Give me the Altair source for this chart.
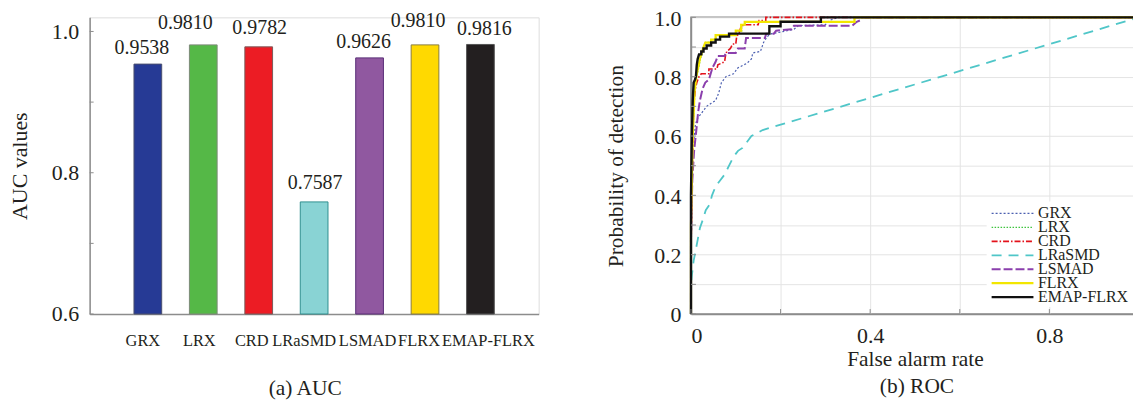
import altair as alt
import pandas as pd

FONT = "Liberation Serif"
TXT = "#231f20"
AX = "#8c8c8c"

# ---------------- data ----------------
methods = ["GRX", "LRX", "CRD", "LRaSMD", "LSMAD", "FLRX", "EMAP-FLRX"]
auc_values = [0.9538, 0.9810, 0.9782, 0.7587, 0.9626, 0.9810, 0.9816]

auc_ticks = [0.6, 0.7, 0.8, 0.9, 1.0]
auc_tick_labels = ["0.6", "", "0.8", "", "1.0"]
roc_x_ticks = [0.0, 0.2, 0.4, 0.6, 0.8, 1.0]
roc_x_labels = ["0", "", "0.4", "", "0.8", ""]
roc_y_ticks = [0.0, 0.1, 0.2, 0.3, 0.4, 0.5, 0.6, 0.7, 0.8, 0.9, 1.0]
roc_y_labels = ["0", "", "0.2", "", "0.4", "", "0.6", "", "0.8", "", "1.0"]

grx_fpr = [0, 0, 0.003, 0.006, 0.010, 0.015, 0.025, 0.035, 0.045, 0.055, 0.062, 0.068, 0.078, 0.095,
           0.105, 0.125, 0.135, 0.138, 0.155, 0.162, 0.170, 0.180, 0.200, 0.230, 0.240, 0.300, 0.310, 0.330, 1.0]
grx_tpr = [0, 0.20, 0.45, 0.58, 0.64, 0.66, 0.68, 0.70, 0.71, 0.72, 0.745, 0.78, 0.80, 0.81,
           0.83, 0.845, 0.86, 0.88, 0.885, 0.915, 0.935, 0.945, 0.95, 0.96, 0.972, 0.975, 0.99, 1.0, 1.0]

lrx_fpr = [0, 0, 0.004, 0.008, 0.012, 0.017, 0.021, 0.025, 0.029, 0.033, 0.046, 0.046, 0.056, 0.056,
           0.101, 0.101, 0.113, 0.113, 0.121, 0.121, 0.365, 0.365, 1.0]
lrx_tpr = [0, 0.30, 0.60, 0.75, 0.80, 0.83, 0.86, 0.88, 0.90, 0.915, 0.915, 0.925, 0.925, 0.94,
           0.94, 0.955, 0.955, 0.975, 0.975, 0.985, 0.985, 1.0, 1.0]

crd_fpr = [0, 0, 0.003, 0.006, 0.010, 0.013, 0.018, 0.023, 0.040, 0.040, 0.058, 0.060, 0.075, 0.077,
           0.080, 0.088, 0.093, 0.100, 0.102, 0.108, 0.112, 0.120, 0.150, 0.152, 0.167, 0.167, 1.0]
crd_tpr = [0, 0.20, 0.50, 0.70, 0.76, 0.78, 0.80, 0.81, 0.81, 0.826, 0.826, 0.84, 0.85, 0.87,
           0.885, 0.895, 0.91, 0.91, 0.935, 0.95, 0.97, 0.975, 0.975, 0.989, 0.989, 1.0, 1.0]

lrasmd_fpr = [0, 0, 0.002, 0.006, 0.010, 0.015, 0.020, 0.027, 0.033, 0.042, 0.047, 0.055, 0.065, 0.075,
              0.085, 0.095, 0.105, 0.115, 0.125, 0.135, 0.148, 0.160, 1.0]
lrasmd_tpr = [0, 0.10, 0.13, 0.18, 0.21, 0.25, 0.29, 0.32, 0.35, 0.37, 0.40, 0.43, 0.45, 0.47,
              0.50, 0.53, 0.55, 0.56, 0.58, 0.60, 0.61, 0.62, 1.0]

lsmad_fpr = [0, 0, 0.003, 0.007, 0.012, 0.016, 0.020, 0.026, 0.032, 0.040, 0.042, 0.048, 0.055, 0.060,
             0.075, 0.078, 0.100, 0.105, 0.120, 0.123, 0.165, 0.168, 0.185, 0.190, 0.225, 0.230, 0.360,
             0.370, 0.378, 0.380, 1.0]
lsmad_tpr = [0, 0.25, 0.45, 0.55, 0.62, 0.68, 0.72, 0.76, 0.78, 0.79, 0.80, 0.83, 0.85, 0.87,
             0.87, 0.88, 0.88, 0.895, 0.895, 0.93, 0.93, 0.945, 0.945, 0.955, 0.96, 0.972, 0.972,
             0.985, 0.99, 1.0, 1.0]

flrx_fpr = [0, 0, 0.004, 0.008, 0.012, 0.016, 0.020, 0.024, 0.028, 0.032, 0.045, 0.045, 0.055, 0.055,
            0.100, 0.100, 0.112, 0.112, 0.120, 0.120, 0.365, 0.365, 1.0]
flrx_tpr = [0, 0.30, 0.60, 0.75, 0.80, 0.83, 0.86, 0.88, 0.90, 0.915, 0.915, 0.925, 0.925, 0.94,
            0.94, 0.955, 0.955, 0.975, 0.975, 0.985, 0.985, 1.0, 1.0]

emap_fpr = [0, 0, 0.002, 0.004, 0.006, 0.009, 0.011, 0.013, 0.015, 0.018, 0.023, 0.023, 0.028, 0.028,
            0.035, 0.035, 0.045, 0.045, 0.055, 0.055, 0.065, 0.065, 0.085, 0.085, 0.175, 0.175, 0.200,
            0.200, 0.290, 0.290, 1.0]
emap_tpr = [0, 0.40, 0.60, 0.72, 0.78, 0.79, 0.80, 0.84, 0.86, 0.875, 0.875, 0.885, 0.885, 0.895,
            0.895, 0.905, 0.905, 0.915, 0.915, 0.925, 0.925, 0.935, 0.935, 0.945, 0.945, 0.97, 0.97,
            0.985, 0.985, 1.0, 1.0]

roc_fpr = [grx_fpr, lrx_fpr, crd_fpr, lrasmd_fpr, lsmad_fpr, flrx_fpr, emap_fpr]
roc_tpr = [grx_tpr, lrx_tpr, crd_tpr, lrasmd_tpr, lsmad_tpr, flrx_tpr, emap_tpr]

# ---------------- styles ----------------
bar_fill = ["#263a95", "#55b847", "#ec1c24", "#89d3d4", "#9058a0", "#ffd900", "#231f20"]
bar_stroke = ["#4a4f6e", "#7d8a78", "#7a5a5a", "#2f8f8f", "#5a2d77", "#8a7d3a", "#555555"]
value_dx = [-6, -18, 1, 1, -6, -7, 4]               # offsets of the value labels
value_dy = [-10, -16, -13, -13, -10, -18, -10]
name_dx = [-5, -4, -7, -10, -2, -6, 8]              # offsets of the category labels

line_color = ["#4b5fb0", "#3ec43e", "#e3121b", "#4fc6c8", "#8b3fad", "#f2e600", "#111111"]
line_dash = [[2, 2], [1.5, 1.5], [6, 2, 1.5, 2], [10, 7], [9, 3], [1, 0], [1, 0]]
line_width = [1.2, 2.4, 1.2, 2.5, 3.0, 2.0, 2.5]

# legend box geometry (pixels inside the ROC panel)
LEG_ROWS = [197, 281]
LEG_LINE = [302, 344]
LEG_TEXT_X = 348.5
LEG_BOX = [297, 452, 185, 291]


def label_expr(vals, labs):
    parts = [f"abs(datum.value-{v})<1e-6 ? '{l}' :" for v, l in zip(vals, labs)]
    return " ".join(parts) + " ''"


# ---------------- tables ----------------
bar_df = pd.DataFrame({"method": methods, "auc": auc_values,
                       "label": [f"{v:.4f}" for v in auc_values]})
rows = []
for m, xs, ys in zip(methods, roc_fpr, roc_tpr):
    for i, (a, b) in enumerate(zip(xs, ys)):
        rows.append({"method": m, "fpr": a, "tpr": b, "idx": i})
roc_df = pd.DataFrame(rows)
leg_df = pd.DataFrame({"method": methods})

# ---------------- left: AUC bars ----------------
H = 298
x_bar = alt.X("method:N", sort=methods,
              scale=alt.Scale(paddingInner=0.5, paddingOuter=0.8),
              axis=alt.Axis(title=None, labels=False, ticks=False,
                            domainColor=AX, domainWidth=1.5))
y_bar = alt.Y("auc:Q", scale=alt.Scale(domain=[0.6, 1.02], nice=False, zero=False),
              axis=alt.Axis(title="AUC values", values=auc_ticks,
                            labelExpr=label_expr(auc_ticks, auc_tick_labels),
                            grid=False, ticks=False, labelFontSize=22, labelFont=FONT,
                            labelColor=TXT, labelPadding=11, titleFontSize=22,
                            titleFont=FONT, titleFontWeight="normal", titleColor=TXT,
                            titlePadding=20, domainColor=AX, domainWidth=1.5))

bars = alt.Chart(bar_df).mark_bar(strokeWidth=1).encode(
    x=x_bar, y=y_bar, y2=alt.datum(0.6),
    fill=alt.Fill("method:N", scale=alt.Scale(domain=methods, range=bar_fill), legend=None),
    stroke=alt.Stroke("method:N", scale=alt.Scale(domain=methods, range=bar_stroke), legend=None),
)
ltick = alt.Chart(pd.DataFrame({"auc": auc_ticks})).mark_rule(color=AX, strokeWidth=1).encode(
    y=y_bar, x=alt.value(0), x2=alt.value(4))
value_texts = [
    alt.Chart(bar_df).transform_filter(alt.datum.method == m).mark_text(
        baseline="alphabetic", dx=ddx, dy=ddy, fontSize=20, font=FONT, color=TXT
    ).encode(x=x_bar, y=y_bar, text="label:N")
    for m, ddx, ddy in zip(methods, value_dx, value_dy)
]
name_texts = [
    alt.Chart(bar_df).transform_filter(alt.datum.method == m).mark_text(
        baseline="alphabetic", dx=d, fontSize=16.5, font=FONT, color=TXT
    ).encode(x=x_bar, y=alt.value(H + 32), text="method:N")
    for m, d in zip(methods, name_dx)
]
left = alt.layer(bars, ltick, *value_texts, *name_texts).properties(
    width=451, height=H,
    title=alt.TitleParams("(a) AUC", orient="bottom", anchor="middle", frame="group",
                          font=FONT, fontSize=21.5, fontWeight="normal", color=TXT,
                          offset=29, dx=-9),
)

# ---------------- right: ROC curves ----------------
x_roc = alt.X("fpr:Q", scale=alt.Scale(domain=[0, 1], nice=False),
              axis=alt.Axis(title="False alarm rate", values=roc_x_ticks,
                            labelExpr=label_expr(roc_x_ticks, roc_x_labels),
                            grid=True, gridColor="#e4e4e4", ticks=False,
                            labelFontSize=22, labelFont=FONT, labelColor=TXT,
                            labelPadding=11.5, titleFontSize=21.5, titleFont=FONT,
                            titleFontWeight="normal", titleColor=TXT, titlePadding=2,
                            domainColor=AX, domainWidth=1.5))
y_roc = alt.Y("tpr:Q", scale=alt.Scale(domain=[0, 1], nice=False),
              axis=alt.Axis(title="Probability of detection", values=roc_y_ticks,
                            labelExpr=label_expr(roc_y_ticks, roc_y_labels),
                            grid=True, gridColor="#e4e4e4", ticks=False,
                            labelFontSize=22, labelFont=FONT, labelColor=TXT,
                            labelPadding=10, labelOffset=1, titleFontSize=21.5, titleFont=FONT,
                            titleFontWeight="normal", titleColor=TXT, titlePadding=26,
                            domainColor=AX, domainWidth=1.5))
c_enc = alt.Color("method:N", scale=alt.Scale(domain=methods, range=line_color), legend=None)
d_enc = alt.StrokeDash("method:N", scale=alt.Scale(domain=methods, range=line_dash), legend=None)
w_enc = alt.StrokeWidth("method:N", scale=alt.Scale(domain=methods, range=line_width), legend=None)

lines = alt.Chart(roc_df).mark_line().encode(
    x=x_roc, y=y_roc, color=c_enc, strokeDash=d_enc, strokeWidth=w_enc, order="idx:Q")
ydf = pd.DataFrame({"tpr": roc_y_ticks})
xdf = pd.DataFrame({"fpr": roc_x_ticks})
rt_left = alt.Chart(ydf).mark_rule(color=AX).encode(
    y=y_roc, x=alt.value(0), x2=alt.value(5))
rt_right = alt.Chart(ydf).mark_rule(color=AX).encode(
    y=y_roc, x=alt.value(445), x2=alt.value(450))
rt_bottom = alt.Chart(xdf).mark_rule(color=AX).encode(
    x=x_roc, y=alt.value(H), y2=alt.value(H - 5))
plot_layers = alt.layer(lines, rt_left, rt_right, rt_bottom)

# legend (drawn as marks with its own row scale)
leg_y = alt.Y("method:N", sort=methods,
              scale=alt.Scale(type="point", domain=methods, range=LEG_ROWS, padding=0),
              axis=None)
leg_bg = alt.Chart(pd.DataFrame({"a": [0]})).mark_rect(fill="white", stroke=None).encode(
    x=alt.value(LEG_BOX[0]), x2=alt.value(LEG_BOX[1]),
    y=alt.value(LEG_BOX[2]), y2=alt.value(LEG_BOX[3]))
leg_lines = alt.Chart(leg_df).mark_rule().encode(
    y=leg_y, x=alt.value(LEG_LINE[0]), x2=alt.value(LEG_LINE[1]),
    color=c_enc, strokeDash=d_enc, strokeWidth=w_enc)
leg_text = alt.Chart(leg_df).mark_text(
    align="left", baseline="middle", fontSize=16, font=FONT, color=TXT
).encode(y=leg_y, x=alt.value(LEG_TEXT_X), text="method:N")
legend_layers = alt.layer(leg_bg, leg_lines, leg_text)

right = alt.layer(plot_layers, legend_layers).resolve_scale(y="independent").properties(
    width=450, height=H,
    view=alt.ViewBackground(stroke=AX, strokeWidth=1.5),
    title=alt.TitleParams("(b) ROC", orient="bottom", anchor="middle", frame="group",
                          font=FONT, fontSize=21.5, fontWeight="normal", color=TXT,
                          offset=6, dx=2),
)

chart = alt.hconcat(left, right, spacing=153, bounds="flush").resolve_scale(
    color="independent", fill="independent", stroke="independent",
    strokeDash="independent", strokeWidth="independent"
).properties(
    padding={"left": 0, "top": -2.5, "right": -12, "bottom": 0}
).configure_view(stroke=None).configure(font=FONT)

chart.save("out.html", embed_options={"renderer": "svg", "actions": False})
